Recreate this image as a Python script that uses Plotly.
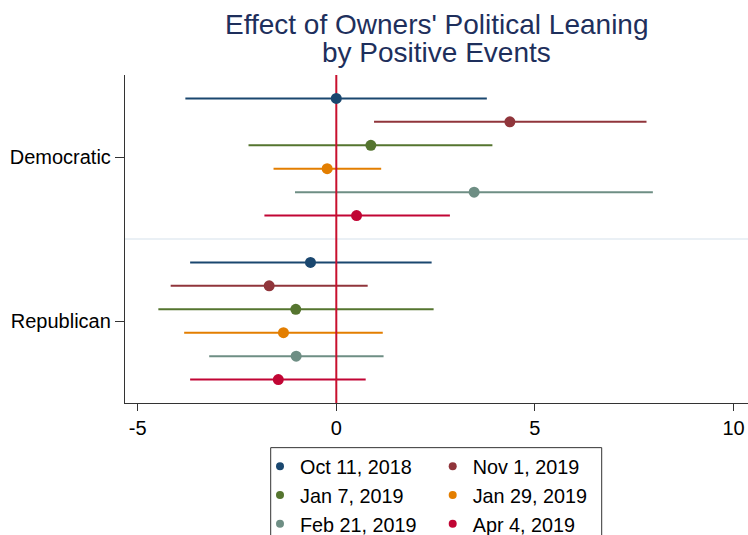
import plotly.graph_objects as go

# Party groups and event dates (top-to-bottom order inside each group)
groups = ["Democratic", "Republican"]
events = ["Oct 11, 2018", "Nov 1, 2019", "Jan 7, 2019",
          "Jan 29, 2019", "Feb 21, 2019", "Apr 4, 2019"]
colors = ["#1a476f", "#90353b", "#55752f", "#e37e00", "#6e8e84", "#c10534"]

# Point estimates and confidence bounds per event
dem_est = [0.00, 4.37, 0.87, -0.23, 3.47, 0.51]
dem_lo = [-3.80, 0.95, -2.21, -1.58, -1.04, -1.81]
dem_hi = [3.79, 7.81, 3.93, 1.13, 7.97, 2.86]

rep_est = [-0.65, -1.69, -1.02, -1.33, -1.01, -1.46]
rep_lo = [-3.68, -4.17, -4.48, -3.83, -3.20, -3.68]
rep_hi = [2.40, 0.79, 2.45, 1.17, 1.19, 0.74]

x_ticks = [-5, 0, 5, 10]

est = [dem_est, rep_est]
lo = [dem_lo, rep_lo]
hi = [dem_hi, rep_hi]

FONT = "Liberation Sans, Arial, Helvetica, sans-serif"
n_ev = len(events)
block = n_ev + 1  # rows per party block, including the spacer row


def row_pos(g, i):
    return g * block + i + 1


fig = go.Figure()

# confidence-interval segments
for i, (ev, col) in enumerate(zip(events, colors)):
    xs, ys = [], []
    for g in range(len(groups)):
        y = row_pos(g, i)
        xs += [lo[g][i], hi[g][i], None]
        ys += [y, y, None]
    fig.add_trace(go.Scatter(x=xs, y=ys, mode="lines",
                             line=dict(color=col, width=2),
                             showlegend=False, hoverinfo="skip"))

# reference line at zero effect
y_top, y_bot = 0, len(groups) * block
fig.add_trace(go.Scatter(x=[0, 0], y=[y_top, y_bot], mode="lines",
                         line=dict(color="#c8102e", width=2),
                         showlegend=False, hoverinfo="skip"))

# point estimates
for i, (ev, col) in enumerate(zip(events, colors)):
    fig.add_trace(go.Scatter(
        x=[est[g][i] for g in range(len(groups))],
        y=[row_pos(g, i) for g in range(len(groups))],
        mode="markers", marker=dict(color=col, size=11),
        name=ev, showlegend=False))

# legend entries (two columns)
for i, (ev, col) in enumerate(zip(events, colors)):
    fig.add_trace(go.Scatter(
        x=[None], y=[None], mode="markers",
        marker=dict(color=col, size=8), name=ev,
        legendgroup="c%d" % (i % 2), showlegend=True))

# plot geometry in pixels
W, H = 748, 535
L, R, T, B = 125, 0, 75, 132.3
pw, ph = W - L - R, H - T - B


def px_x(p):
    return (p - L) / pw


def px_y(p):
    return (H - B - p) / ph


shapes = [
    # light divider between the party blocks
    dict(type="line", xref="paper", yref="y", x0=0, x1=1,
         y0=block, y1=block, line=dict(color="#eaf0f5", width=2),
         layer="below"),
    # legend frame
    dict(type="rect", xref="paper", yref="paper",
         x0=px_x(270.7), x1=px_x(601.7), y0=px_y(447.3), y1=px_y(600),
         line=dict(color="#333333", width=1), fillcolor="rgba(0,0,0,0)"),
]

title_col = "#1e2f5c"
annotations = [
    dict(text="Effect of Owners' Political Leaning", xref="paper", yref="paper",
         x=0.5, y=px_y(24.6), xanchor="center", yanchor="middle",
         showarrow=False, font=dict(family=FONT, size=28, color=title_col)),
    dict(text="by Positive Events", xref="paper", yref="paper",
         x=0.5, y=px_y(52.6), xanchor="center", yanchor="middle",
         showarrow=False, font=dict(family=FONT, size=28, color=title_col)),
]

fig.update_layout(
    width=W, height=H,
    margin=dict(l=L, r=R, t=T, b=B, autoexpand=False),
    paper_bgcolor="white", plot_bgcolor="white",
    font=dict(family=FONT, size=20, color="black"),
    shapes=shapes, annotations=annotations,
    legend=dict(orientation="h", x=px_x(260), xanchor="left",
                y=px_y(446.6), yanchor="top",
                entrywidth=127.7, entrywidthmode="pixels",
                traceorder="grouped", tracegroupgap=0,
                borderwidth=0, bgcolor="rgba(0,0,0,0)",
                font=dict(family=FONT, size=19.8, color="black")),
    xaxis=dict(range=[(L - 336.3) / 39.72, (W - 336.3) / 39.72],
               tickvals=x_ticks, ticktext=[str(v) for v in x_ticks],
               ticks="outside", ticklen=7, tickwidth=1.3, tickcolor="#333333",
               showline=True, linecolor="#333333", linewidth=1.3,
               showgrid=False, zeroline=False,
               tickfont=dict(family=FONT, size=20, color="black")),
    yaxis=dict(range=[y_bot, y_top],
               tickvals=[row_pos(g, (n_ev - 1) / 2) for g in range(len(groups))],
               ticktext=groups,
               ticks="outside", ticklen=9, tickwidth=1.3, tickcolor="#333333",
               showline=True, linecolor="#333333", linewidth=1.3,
               showgrid=False, zeroline=False,
               tickfont=dict(family=FONT, size=20, color="black")),
)

fig.write_html("out.html")
